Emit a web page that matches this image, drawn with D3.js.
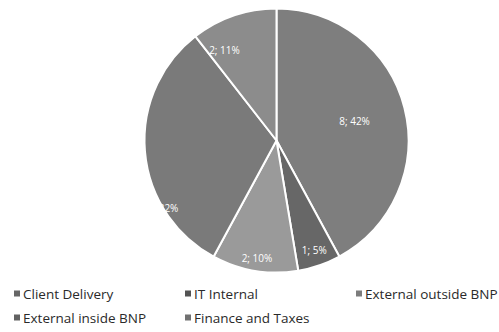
<!DOCTYPE html>
<html>
<head>
<meta charset="utf-8">
<script src="https://cdn.jsdelivr.net/npm/d3@7"></script>
<style>
  html, body { margin: 0; padding: 0; background: #fff; }
  svg { display: block; }
</style>
</head>
<body>
<svg id="chart" width="499" height="332"></svg>
<script>
// Headcount by department
const categories = ["Client Delivery", "IT Internal", "External outside BNP", "External inside BNP", "Finance and Taxes"];
const counts = [8, 1, 2, 6, 2];
const percentLabels = ["42%", "5%", "10%", "32%", "11%"];
const sliceColors = ["#7e7e7e", "#676767", "#9a9a9a", "#7a7a7a", "#8c8c8c"];

// Layout
const width = 499, height = 332;
const cx = 276.5, cy = 140.5, radius = 132;
// Label placement: fraction of radius and angular nudge (degrees) per slice
const labelRadius = [0.61, 0.88, 0.9, 1.0, 0.79];
const labelNudge = [0, 0, 0, -26, -11];

const svg = d3.select("#chart");

const data = categories.map((c, i) => ({ name: c, value: counts[i], pct: percentLabels[i], color: sliceColors[i], i }));

const pie = d3.pie().value(d => d.value).sort(null);
const arcs = pie(data);
const arc = d3.arc().innerRadius(0).outerRadius(radius);

const g = svg.append("g").attr("transform", `translate(${cx},${cy})`);

g.selectAll("path.slice")
  .data(arcs)
  .join("path")
  .attr("class", "slice")
  .attr("d", arc)
  .attr("fill", d => d.data.color)
  .attr("stroke", "#ffffff")
  .attr("stroke-width", 2)
  .attr("stroke-linejoin", "round");

function labelPos(d) {
  const a = (d.startAngle + d.endAngle) / 2 + labelNudge[d.data.i] * Math.PI / 180;
  const r = radius * labelRadius[d.data.i];
  return [Math.sin(a) * r, -Math.cos(a) * r];
}

g.selectAll("text.lbl")
  .data(arcs)
  .join("text")
  .attr("class", "lbl")
  .attr("x", d => labelPos(d)[0])
  .attr("y", d => labelPos(d)[1])
  .attr("text-anchor", "middle")
  .attr("dominant-baseline", "central")
  .attr("fill", "#ffffff")
  .attr("font-family", "'Open Sans', sans-serif")
  .attr("font-size", 10)
  .text(d => `${d.data.value}; ${d.data.pct}`);

// Legend: three items per row
const legendX = [14, 185, 356];
const legendY = [294, 318];
const legend = svg.append("g").attr("class", "legend");
const items = legend.selectAll("g.item")
  .data(data)
  .join("g")
  .attr("class", "item")
  .attr("transform", d => `translate(${legendX[d.i % 3]},${legendY[Math.floor(d.i / 3)]})`);

items.append("rect")
  .attr("x", 0).attr("y", -3.5)
  .attr("width", 6).attr("height", 6)
  .attr("fill", d => d3.color(d.color).darker(0.6));

items.append("text")
  .attr("x", 9)
  .attr("y", 0)
  .attr("dominant-baseline", "central")
  .attr("fill", "#2a2a2a")
  .attr("font-family", "'Open Sans', sans-serif")
  .attr("font-size", 13.5)
  .text(d => d.name);
</script>
</body>
</html>
